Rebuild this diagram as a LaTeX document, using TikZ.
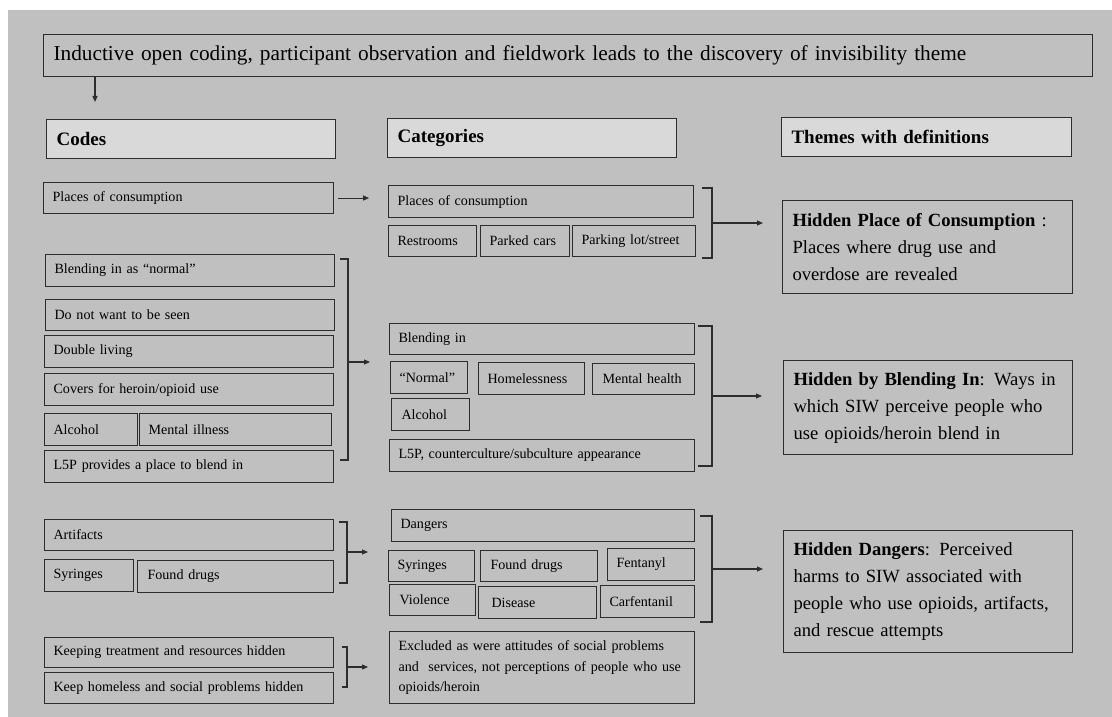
\documentclass[tikz,border=0pt]{standalone}
\usepackage{fontspec}
\setmainfont{Liberation Serif}
\usetikzlibrary{arrows.meta}
\definecolor{bg}{RGB}{192,192,192}
\definecolor{hd}{RGB}{217,217,217}
\definecolor{lc}{RGB}{45,45,45}
\tikzset{
 bx/.style={draw=lc, line width=1.1pt, rectangle, anchor=north west, inner xsep=9pt, inner ysep=0pt, align=left, font=\fontsize{14.1}{18}\selectfont},
 hdr/.style={bx, fill=hd, inner xsep=10pt, font=\fontsize{19}{24}\selectfont\bfseries},
 thm/.style={bx, inner xsep=10pt, font=\fontsize{18.6}{27}\selectfont},
 arr/.style={draw=lc, line width=1.1pt, -{Triangle[length=6pt,width=5pt]}},
 brk/.style={draw=lc, line width=1.1pt},
}
\begin{document}
\begin{tikzpicture}[x=1pt,y=-1pt]
\useasboundingbox (0,0) rectangle (1112,717);
\fill[bg] (8,10) rectangle (1112,717);

% title
\node[bx, inner xsep=10pt, text width=1029pt, minimum height=42pt, font=\fontsize{21.3}{26}\selectfont] (title) at (43,34) {Inductive open coding, participant observation and fieldwork leads to the discovery of invisibility theme};
\coordinate (tA) at (95,102);
\draw[arr] (title.south west -| tA) -- (tA);

% headers
\node[hdr, text width=269pt, minimum height=39pt] (codesH) at (46,119) {Codes};
\node[hdr, text width=269pt, minimum height=39pt] (catH) at (387,118) {Categories};
\node[hdr, text width=270pt, minimum height=39pt] (themeH) at (781,117) {Themes with definitions};

% codes
\node[bx, text width=272pt, minimum height=31pt] (c1) at (43,182) {Places of consumption};
\node[bx, text width=271pt, minimum height=32pt] (c2) at (45,254) {Blending in as “normal”};
\node[bx, text width=271pt, minimum height=31pt] (c3) at (45,299) {Do not want to be seen};
\node[bx, text width=271pt, minimum height=32pt] (c4) at (44,335) {Double living};
\node[bx, text width=271pt, minimum height=32pt] (c5) at (44,373) {Covers for heroin/opioid use};
\node[bx, text width=75pt, minimum height=32pt] (c6) at (44,413) {Alcohol};
\node[bx, text width=174pt, minimum height=32pt] (c7) at (139,413) {Mental illness};
\node[bx, text width=271pt, minimum height=32pt] (c8) at (44,450) {L5P provides a place to blend in};
\node[bx, text width=271pt, minimum height=31pt] (c9) at (44,519) {Artifacts};
\node[bx, text width=71pt, minimum height=32pt] (c10) at (44,559) {Syringes};
\node[bx, inner xsep=10pt, text width=176pt, minimum height=32pt] (c11) at (137,560) {Found drugs};
\node[bx, text width=271pt, minimum height=30pt] (c12) at (44,637) {Keeping treatment and resources hidden};
\node[bx, text width=271pt, minimum height=31pt] (c13) at (44,672) {Keep homeless and social problems hidden};

\draw[arr] ([xshift=4pt]c1.east) -- ++(31,0);

\draw[brk] (340,259) -- (348,259) -- (348,460) -- (340,460);
\coordinate (k1) at (348,362); \coordinate (k1e) at (370,362);
\draw[arr] (k1) -- (k1e);
\draw[brk] (339,522) -- (347,522) -- (347,583) -- (339,583);
\coordinate (k2) at (347,552); \coordinate (k2e) at (368,552);
\draw[arr] (k2) -- (k2e);
\draw[brk] (342,647) -- (347,647) -- (347,687) -- (342,687);
\coordinate (k3) at (347,667); \coordinate (k3e) at (368,667);
\draw[arr] (k3) -- (k3e);

% categories
\node[bx, text width=287pt, minimum height=32pt] (p1) at (388,185) {Places of consumption};
\node[bx, text width=70pt, minimum height=31pt] (p2) at (388,225) {Restrooms};
\node[bx, text width=71pt, minimum height=31pt] (p3) at (480,225) {Parked cars};
\node[bx, text width=105pt, minimum height=31pt] (p4) at (572,225) {\mbox{Parking lot/street}};
\draw[brk] (702,188) -- (712,188) -- (712,258) -- (702,258);
\coordinate (kp) at (712,223); \coordinate (kpe) at (763,223);
\draw[arr] (kp) -- (kpe);

\node[bx, text width=287pt, minimum height=31pt] (b1) at (389,323) {Blending in};
\node[bx, text width=59pt, minimum height=32pt] (b2) at (390,361) {“Normal”};
\node[bx, text width=88pt, minimum height=32pt] (b3) at (478,362) {Homelessness};
\node[bx, inner xsep=10pt, text width=82pt, minimum height=31pt] (b4) at (592,363) {\mbox{Mental health}};
\node[bx, inner xsep=10pt, text width=58pt, minimum height=32pt] (b5) at (391,398) {Alcohol};
\node[bx, text width=287pt, minimum height=32pt] (b6) at (389,439) {L5P, counterculture/subculture appearance};
\draw[brk] (698,326) -- (712,326) -- (712,466) -- (698,466);
\coordinate (kb) at (712,396); \coordinate (kbe) at (762,396);
\draw[arr] (kb) -- (kbe);

\node[bx, text width=285pt, minimum height=32pt] (d1) at (391,509) {Dangers};
\node[bx, text width=68pt, minimum height=31pt] (d2) at (388,550) {Syringes};
\node[bx, inner xsep=10pt, text width=97pt, minimum height=31pt] (d3) at (480,550) {Found drugs};
\node[bx, text width=69pt, minimum height=32pt] (d4) at (607,548) {Fentanyl};
\node[bx, inner xsep=10pt, text width=66pt, minimum height=31pt] (d5) at (389,584) {Violence};
\node[bx, inner xsep=13pt, text width=92pt, minimum height=32pt] (d6) at (478,586) {Disease};
\node[bx, text width=76pt, minimum height=32pt] (d7) at (600,585) {Carfentanil};
\node[bx, text width=287pt, minimum height=72pt, font=\fontsize{14.1}{20.5}\selectfont] (e1) at (389,631) {\mbox{Excluded as were attitudes of social problems}\\\mbox{and\ \ services, not perceptions of people who use}\\\mbox{opioids/heroin}};
\draw[brk] (700,516) -- (712,516) -- (712,622) -- (700,622);
\coordinate (kd) at (712,569); \coordinate (kde) at (763,569);
\draw[arr] (kd) -- (kde);

% themes
\node[thm, text width=270pt, minimum height=93pt] (t1) at (782,200) {\mbox{\textbf{Hidden Place of Consumption} :}\\\mbox{Places where drug use and}\\\mbox{overdose are revealed}};
\node[thm, text width=269pt, minimum height=94pt] (t2) at (783,360) {\mbox{\textbf{Hidden by Blending In}: Ways in}\\\mbox{which SIW perceive people who}\\\mbox{use opioids/heroin blend in}};
\node[thm, text width=269pt, minimum height=122pt] (t3) at (783,530) {\mbox{\textbf{Hidden Dangers}: Perceived}\\\mbox{harms to SIW associated with}\\\mbox{people who use opioids, artifacts,}\\\mbox{and rescue attempts}};
\end{tikzpicture}
\end{document}
